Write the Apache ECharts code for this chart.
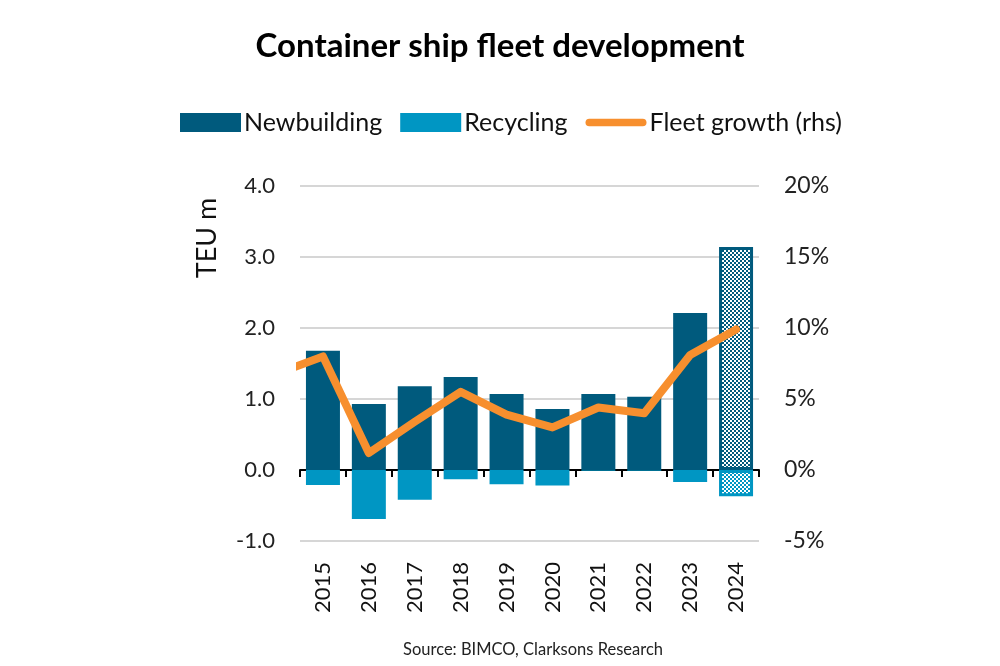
<!DOCTYPE html>
<html>
<head>
<meta charset="utf-8">
<script src="https://cdn.jsdelivr.net/npm/echarts@6/dist/echarts.min.js"></script>
<style>
html,body{margin:0;padding:0;background:#fff;}
#chart{width:1000px;height:666px;}
</style>
</head>
<body>
<div id="chart"></div>
<script>
// ---- data ----
const categories = ['2015','2016','2017','2018','2019','2020','2021','2022','2023','2024'];
const newbuilding = [1.68, 0.93, 1.18, 1.31, 1.07, 0.86, 1.07, 1.03, 2.21, 3.14];
const recycling  = [-0.21, -0.69, -0.42, -0.13, -0.20, -0.22, -0.01, -0.01, -0.17, -0.37];
const growthYears = ['2014','2015','2016','2017','2018','2019','2020','2021','2022','2023','2024'];
const fleetGrowth = [6.8, 8.0, 1.2, 3.4, 5.5, 3.9, 3.0, 4.4, 4.0, 8.1, 9.9];
const forecastYears = ['2024'];
const leftTicks = [-1, 0, 1, 2, 3, 4];
const rightTicks = [-5, 0, 5, 10, 15, 20];

const DARK = '#005A7D';
const LIGHT = '#0096C3';
const ORANGE = '#F78F2E';
const FONT = 'Lato, "Open Sans", sans-serif';

function makePattern(col) {
  const c = document.createElement('canvas');
  c.width = 8; c.height = 8;
  const ctx = c.getContext('2d');
  ctx.fillStyle = '#ffffff';
  ctx.fillRect(0, 0, 8, 8);
  ctx.fillStyle = col;
  for (let y = 0; y < 8; y += 2) {
    for (let x = 0; x < 8; x += 2) {
      if (((x >> 1) + (y >> 1)) % 2 === 0) ctx.fillRect(x, y, 2, 2);
    }
  }
  return c;
}
const patDark = makePattern(DARK);
const patLight = makePattern(LIGHT);

function barData(vals, col, pat) {
  return vals.map((v, i) => {
    if (forecastYears.indexOf(categories[i]) >= 0) {
      return { value: v, itemStyle: { color: { image: pat, repeat: 'repeat' }, borderColor: col, borderWidth: 3 } };
    }
    return v;
  });
}

const lineData = fleetGrowth.map((v, i) => {
  const idx = categories.indexOf(growthYears[i]);
  const pos = (idx >= 0 ? idx : -1) + 0.5;
  return [pos, v];
});

const chart = echarts.init(document.getElementById('chart'), null, { renderer: 'canvas' });
chart.setOption({
  animation: false,
  backgroundColor: '#ffffff',
  title: [
    { text: 'Container ship fleet development', left: 'center', top: 25,
      textStyle: { fontFamily: FONT, fontWeight: 'bold', fontSize: 33, color: '#000' } },
    { text: 'Source: BIMCO, Clarksons Research', left: 528, top: 636, textAlign: 'center',
      textStyle: { fontFamily: FONT, fontWeight: 'normal', fontSize: 16.5, color: '#222' } }
  ],
  legend: {
    top: 105, left: 175, itemWidth: 61, itemHeight: 19, itemGap: 18,
    symbolKeepAspect: true,
    textStyle: { fontFamily: FONT, fontSize: 25, color: '#111', padding: [0, 0, 0, -2] },
    data: [
      { name: 'Newbuilding', icon: 'rect' },
      { name: 'Recycling', icon: 'rect' },
      { name: 'Fleet growth (rhs)', icon: 'path://M4,0 L60,0 A4,4 0 0 1 60,8 L4,8 A4,4 0 0 1 4,0 Z' }
    ]
  },
  graphic: [
    { type: 'text', x: 207, y: 238, rotation: Math.PI / 2,
      style: { text: 'TEU m', fontFamily: FONT, fontSize: 27, fill: '#111', align: 'center', verticalAlign: 'middle' } }
  ],
  grid: { left: 300, right: 241, top: 186, bottom: 125, containLabel: false },
  xAxis: [
    { type: 'category', data: categories, gridIndex: 0,
      axisLine: { onZero: true, onZeroAxisIndex: 0, lineStyle: { color: '#000', width: 2 } },
      axisTick: { show: true, length: 7, lineStyle: { color: '#000', width: 2 } },
      axisLabel: { show: false }, splitLine: { show: false } },
    { type: 'category', data: categories, position: 'bottom',
      axisLine: { show: false, onZero: false }, axisTick: { show: false },
      axisLabel: { rotate: 90, margin: 21, fontFamily: FONT, fontSize: 22, color: '#111' } },
    { type: 'value', min: 0, max: categories.length, show: false }
  ],
  yAxis: [
    { type: 'value', min: leftTicks[0], max: leftTicks[leftTicks.length - 1], interval: 1,
      axisLine: { show: false }, axisTick: { show: false },
      axisLabel: { margin: 25, fontFamily: FONT, fontSize: 22, color: '#222', formatter: v => v.toFixed(1) },
      splitLine: { show: true, lineStyle: { color: '#d6d6d6', width: 2 } } },
    { type: 'value', min: rightTicks[0], max: rightTicks[rightTicks.length - 1], interval: 5,
      axisLine: { show: false }, axisTick: { show: false },
      axisLabel: { margin: 25, align: 'left', fontFamily: FONT, fontSize: 23, color: '#222', formatter: '{value}%' },
      splitLine: { show: false } }
  ],
  series: [
    { name: 'Newbuilding', type: 'bar', stack: 'a', xAxisIndex: 0, yAxisIndex: 0,
      barWidth: 34, itemStyle: { color: DARK }, data: barData(newbuilding, DARK, patDark) },
    { name: 'Recycling', type: 'bar', stack: 'a', xAxisIndex: 0, yAxisIndex: 0,
      barWidth: 34, itemStyle: { color: LIGHT }, data: barData(recycling, LIGHT, patLight) },
    { name: 'Fleet growth (rhs)', type: 'line', xAxisIndex: 2, yAxisIndex: 1,
      symbol: 'none', clip: true, z: 5,
      lineStyle: { color: ORANGE, width: 8, cap: 'round', join: 'round' },
      itemStyle: { color: ORANGE },
      data: lineData }
  ]
});
</script>
</body>
</html>
